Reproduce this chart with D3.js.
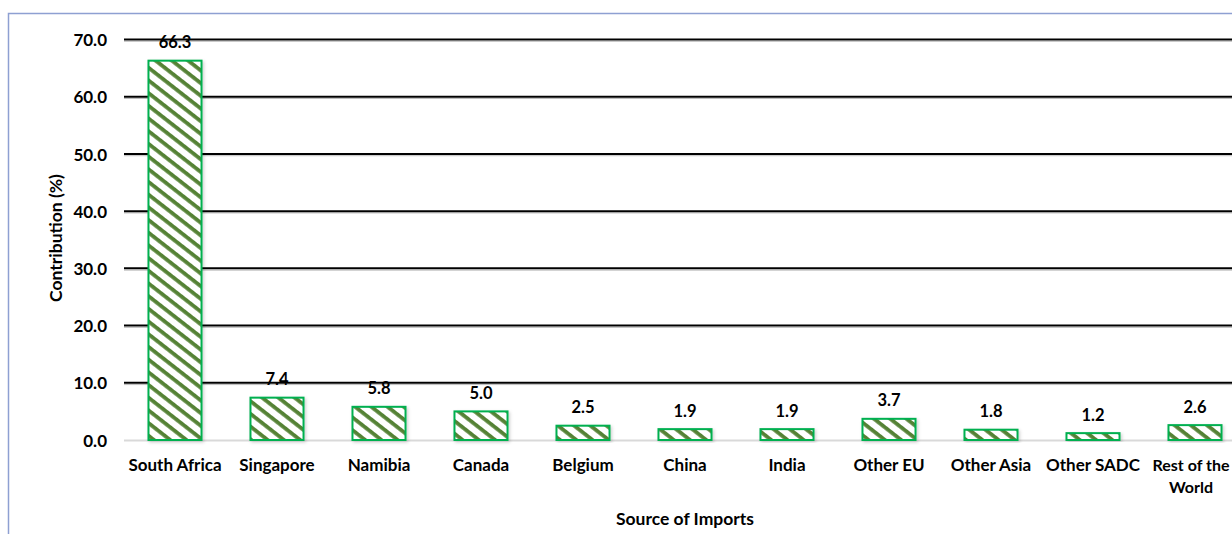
<!DOCTYPE html>
<html lang="en">
<head>
    <meta charset="UTF-8">
    <title>Source of Imports</title>
    <script src="https://cdn.jsdelivr.net/npm/d3@7"></script>
    <style>
        body { margin: 0; background: #fff; }
        svg text { font-family: Lato, "Open Sans", sans-serif; font-weight: bold; fill: #000; }
    </style>
</head>
<body>
    <svg width="1232" height="534"></svg>
</body>
</html>
<script>

    // data
    var categories = ['South Africa','Singapore','Namibia','Canada','Belgium','China','India','Other EU','Other Asia','Other SADC','Rest of the World'];
    var values = [66.3, 7.4, 5.8, 5.0, 2.5, 1.9, 1.9, 3.7, 1.8, 1.2, 2.6];
    var yTicks = [0, 10, 20, 30, 40, 50, 60, 70];

    var svg = d3.select('svg');

    // chart border (cut off at right and bottom like the picture)
    svg.append('path')
        .attr('d', 'M8.5,540 L8.5,13.5 L1240,13.5')
        .attr('fill', 'none')
        .attr('stroke', '#8EA0D2')
        .attr('stroke-width', 1.5);

    var x = d3.scaleBand()
        .domain(categories)
        .range([124, 1246])
        .paddingInner(0.48)
        .paddingOuter(0.24);

    var y = d3.scaleLinear()
        .domain([0, 70])
        .range([440, 39.5]);

    // hatch pattern
    var defs = svg.append('defs');
    var pat = defs.append('pattern')
        .attr('id', 'hatch')
        .attr('patternUnits', 'userSpaceOnUse')
        .attr('width', 10)
        .attr('height', 10)
        .attr('patternTransform', 'rotate(38)');
    pat.append('rect').attr('width', 10).attr('height', 10).attr('fill', '#fff');
    pat.append('rect').attr('y', 0).attr('width', 10).attr('height', 3.8).attr('fill', '#548235');

    var shadow = defs.append('filter').attr('id', 'shadow')
        .attr('x', '-20%').attr('y', '-20%').attr('width', '140%').attr('height', '140%');
    shadow.append('feDropShadow')
        .attr('dx', 1.5).attr('dy', 1.5).attr('stdDeviation', 1.5)
        .attr('flood-color', '#000').attr('flood-opacity', 0.18);

    // gridlines
    var grid = svg.append('g');
    grid.selectAll('line.sh')
        .data(yTicks.filter(function(d){ return d > 0; }))
        .enter().append('line')
        .attr('class', 'sh')
        .attr('x1', 124).attr('x2', 1232)
        .attr('y1', function(d){ return y(d) + 1.8; })
        .attr('y2', function(d){ return y(d) + 1.8; })
        .attr('stroke', '#bdbdbd')
        .attr('stroke-width', 1);
    grid.selectAll('line.gl')
        .data(yTicks.filter(function(d){ return d > 0; }))
        .enter().append('line')
        .attr('class', 'gl')
        .attr('x1', 124).attr('x2', 1232)
        .attr('y1', function(d){ return y(d); })
        .attr('y2', function(d){ return y(d); })
        .attr('stroke', '#000')
        .attr('stroke-width', 2);

    // baseline
    svg.append('line')
        .attr('x1', 124).attr('x2', 1232)
        .attr('y1', y(0) + 0.5).attr('y2', y(0) + 0.5)
        .attr('stroke', '#d9d9d9')
        .attr('stroke-width', 2);

    // y axis labels
    var yAxis = d3.axisLeft(y)
        .tickValues(yTicks)
        .tickFormat(d3.format('.1f'))
        .tickSize(0)
        .tickPadding(0);
    var ya = svg.append('g')
        .attr('transform', 'translate(107,0)')
        .call(yAxis);
    ya.select('.domain').remove();
    ya.selectAll('text')
        .style('font-size', '17px')
        .attr('dy', '0.36em');

    // bars
    svg.selectAll('rect.bar')
        .data(values)
        .enter().append('rect')
        .attr('class', 'bar')
        .attr('x', function(d,i){ return x(categories[i]); })
        .attr('y', function(d){ return y(d); })
        .attr('width', x.bandwidth())
        .attr('height', function(d){ return y(0) - y(d); })
        .attr('fill', 'url(#hatch)')
        .attr('stroke', '#00B050')
        .attr('stroke-width', 2)
        .attr('filter', 'url(#shadow)');

    // value labels
    svg.selectAll('text.val')
        .data(values)
        .enter().append('text')
        .attr('class', 'val')
        .attr('x', function(d,i){ return x(categories[i]) + x.bandwidth()/2; })
        .attr('y', function(d){ return y(d) - 12.5; })
        .attr('text-anchor', 'middle')
        .style('font-size', '16.5px')
        .text(function(d){ return d.toFixed(1); });

    // x axis labels
    var xAxis = d3.axisBottom(x).tickSize(0).tickPadding(0);
    var xa = svg.append('g')
        .attr('transform', 'translate(0,471)')
        .call(xAxis);
    xa.select('.domain').remove();
    xa.selectAll('.tick text')
        .style('font-size', '17px')
        .attr('dy', '0')
        .each(function(d){
            if (d === 'Rest of the World') {
                // last label sits at the right edge, keep it inside
                var t = d3.select(this).text(null).style('font-size', '16px');
                t.append('tspan').attr('x', -4).attr('dy', 0).text('Rest of the');
                t.append('tspan').attr('x', -4).attr('dy', 22).text('World');
            }
        });

    // axis titles
    svg.append('text')
        .attr('x', 685)
        .attr('y', 525)
        .attr('text-anchor', 'middle')
        .style('font-size', '17.5px')
        .text('Source of Imports');

    svg.append('text')
        .attr('transform', 'translate(62,238) rotate(-90)')
        .attr('text-anchor', 'middle')
        .style('font-size', '17.5px')
        .text('Contribution (%)');

</script>
